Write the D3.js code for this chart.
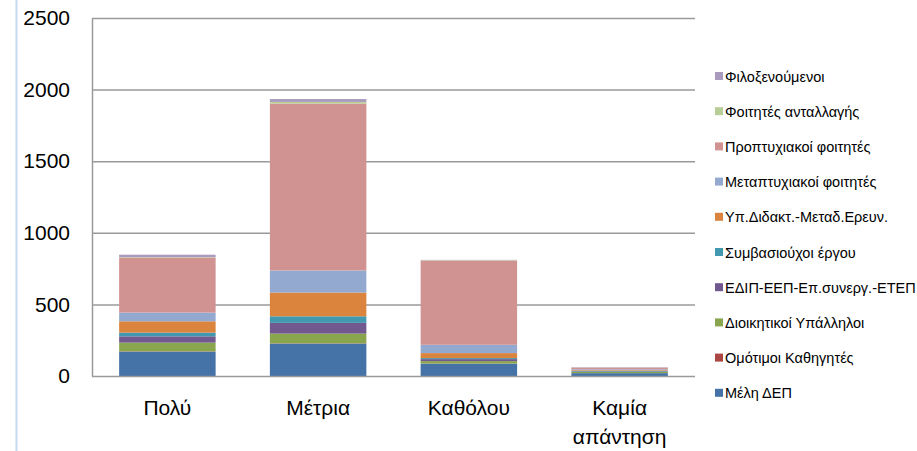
<!DOCTYPE html>
<html>
<head>
<meta charset="utf-8">
<script src="https://cdn.jsdelivr.net/npm/d3@7"></script>
<style>
  body { margin: 0; background: #fff; }
  svg { display: block; font-family: "Liberation Sans", Arial, sans-serif; }
</style>
</head>
<body>
<div class="container"></div>
<script>
const categories = [['Πολύ'], ['Μέτρια'], ['Καθόλου'], ['Καμία', 'απάντηση']];
const seriesNames = [
  'Μέλη ΔΕΠ',
  'Ομότιμοι Καθηγητές',
  'Διοικητικοί Υπάλληλοι',
  'ΕΔΙΠ-ΕΕΠ-Επ.συνεργ.-ΕΤΕΠ',
  'Συμβασιούχοι έργου',
  'Υπ.Διδακτ.-Μεταδ.Ερευν.',
  'Μεταπτυχιακοί φοιτητές',
  'Προπτυχιακοί φοιτητές',
  'Φοιτητές ανταλλαγής',
  'Φιλοξενούμενοι'
];
const seriesColors = ['#4572a7', '#aa4643', '#89a54e', '#71588f', '#4198af', '#db843d', '#93a9cf', '#d19392', '#b9cd96', '#a99bbd'];
const meleDep = [170, 226, 86, 20];
const omotimoi = [2, 2, 1, 0];
const dioikitikoi = [61, 68, 17, 8];
const edip = [44, 75, 14, 4];
const symvasiouxoi = [26, 46, 7, 3];
const ypDidakt = [79, 166, 35, 5];
const metaptyxiakoi = [61, 154, 58, 7];
const proptyxiakoi = [384, 1165, 588, 12];
const antallagis = [3, 12, 3, 1];
const filoxenoumenoi = [17, 20, 2, 2];
const yTicks = [0, 500, 1000, 1500, 2000, 2500];

const seriesValues = [meleDep, omotimoi, dioikitikoi, edip, symvasiouxoi, ypDidakt, metaptyxiakoi, proptyxiakoi, antallagis, filoxenoumenoi];

const renderChart = () => {
  const width = 917;
  const height = 451;
  const plotLeft = 92, plotRight = 695, plotTop = 18, plotBottom = 376;

  const svg = d3.select('.container').append('svg').attr('width', width).attr('height', height);

  //page border line on the left
  svg.append('line')
    .attr('x1', 16.5).attr('x2', 16.5).attr('y1', 0).attr('y2', height)
    .attr('stroke', '#c6d9f0').attr('stroke-width', 2);

  //table for stacking
  const table = categories.map((c, i) => {
    const row = { key: i };
    seriesNames.forEach((s, j) => { row[s] = seriesValues[j][i]; });
    return row;
  });
  const stacked = d3.stack().keys(seriesNames)(table);

  //scales
  const xScale = d3.scaleBand().domain(d3.range(categories.length)).range([plotLeft, plotRight]).paddingInner(0.36).paddingOuter(0.18);
  const yScale = d3.scaleLinear().domain([0, 2500]).range([plotBottom, plotTop]);

  //gridlines
  svg.append('g').attr('class', 'grid')
    .selectAll('line').data(yTicks.filter(d => d > 0)).join('line')
    .attr('x1', plotLeft).attr('x2', plotRight)
    .attr('y1', d => yScale(d) + 0.5).attr('y2', d => yScale(d) + 0.5)
    .attr('stroke', '#9a9a9a').attr('stroke-width', 1.5);

  //bars
  const barsGroup = svg.append('g').attr('class', 'bars');
  stacked.forEach((layer, j) => {
    barsGroup.append('g').attr('fill', seriesColors[j])
      .selectAll('rect').data(layer).join('rect')
      .attr('x', (d, i) => xScale(i))
      .attr('width', xScale.bandwidth())
      .attr('y', d => yScale(d[1]))
      .attr('height', d => yScale(d[0]) - yScale(d[1]));
  });

  //axes
  const leftAxis = d3.axisLeft(yScale).tickValues(yTicks).tickFormat(d3.format('d')).tickSize(0).tickPadding(22);
  const leftAxisGroup = svg.append('g').attr('transform', `translate(${plotLeft},0)`).call(leftAxis);
  leftAxisGroup.select('.domain').attr('stroke', '#9a9a9a').attr('stroke-width', 1.5);
  leftAxisGroup.selectAll('text').attr('font-size', 21).attr('fill', '#000').attr('font-family', '"Liberation Sans", Arial, sans-serif');

  svg.append('line')
    .attr('x1', plotLeft).attr('x2', plotRight).attr('y1', plotBottom + 0.5).attr('y2', plotBottom + 0.5)
    .attr('stroke', '#9a9a9a').attr('stroke-width', 1.5);

  //category labels
  const catGroup = svg.append('g').attr('class', 'categories');
  categories.forEach((lines, i) => {
    const cx = xScale(i) + xScale.bandwidth() / 2;
    const t = catGroup.append('text')
      .attr('x', cx)
      .attr('y', 415)
      .attr('text-anchor', 'middle')
      .attr('font-size', 21);
    lines.forEach((ln, k) => {
      t.append('tspan').attr('x', cx).attr('dy', k === 0 ? 0 : 29).text(ln);
    });
  });

  //legend
  const legend = svg.append('g').attr('class', 'legend');
  const legendItems = seriesNames.map((s, j) => ({ name: s, color: seriesColors[j] })).reverse();
  legendItems.forEach((d, k) => {
    const y = 76 + k * 35.2;
    legend.append('rect').attr('x', 715).attr('y', y - 4).attr('width', 8).attr('height', 8).attr('fill', d.color);
    legend.append('text').attr('x', 725).attr('y', y + 5.5).attr('font-size', 14.5).text(d.name);
  });
};

renderChart();
</script>
</body>
</html>
